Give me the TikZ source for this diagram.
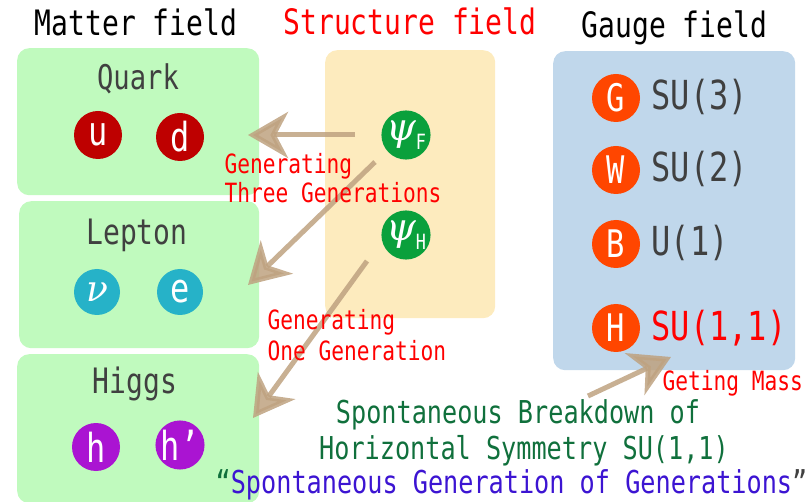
\documentclass[tikz,border=0pt]{standalone}
\usepackage{fontspec}
\setmainfont{DejaVu Sans Mono}[FakeStretch=0.8]
\newfontfamily\greekfont{DejaVu Serif}
\usetikzlibrary{arrows.meta}
\definecolor{boxgreen}{RGB}{192,250,190}
\definecolor{boxyellow}{RGB}{253,235,190}
\definecolor{boxblue}{RGB}{192,215,235}
\definecolor{quarkred}{RGB}{190,0,0}
\definecolor{leptcyan}{RGB}{38,178,200}
\definecolor{higgspurple}{RGB}{170,20,210}
\definecolor{psigreen}{RGB}{10,160,60}
\definecolor{gaugeorange}{RGB}{255,70,0}
\definecolor{arrtan}{RGB}{190,162,128}
\definecolor{labgray}{RGB}{64,64,64}
\definecolor{txtgreen}{RGB}{16,112,60}
\definecolor{txtblue}{RGB}{60,20,210}
\newcommand\fsz[1]{\fontsize{#1}{#1}\selectfont}
\begin{document}
\begin{tikzpicture}[x=1pt,y=-1pt,
  fieldbox/.style={rounded corners=12pt, anchor=north west, inner sep=0pt},
  particle/.style={circle, inner sep=0pt, minimum size=48pt, text=white, font=\fsz{40}},
  gaugeball/.style={circle, inner sep=0pt, minimum size=48pt, text=white, font=\fsz{38}},
  title/.style={anchor=base, font=\fsz{35}},
  boxlabel/.style={anchor=base, font=\fsz{34}, text=labgray},
  grouplabel/.style={anchor=base west, font=\fsz{40}, text=labgray},
  note/.style={anchor=base west, font=\fsz{26.5}, text=red},
  bottomtext/.style={anchor=base, font=\fsz{31.5}},
  arr/.style={line width=5pt, draw=arrtan, draw opacity=0.85, fill opacity=0.85,
    -{Stealth[length=40pt, width=46pt, inset=12pt, fill=arrtan]}}
]
\useasboundingbox (0,0) rectangle (811,502);

% boxes
\node[fieldbox, fill=boxgreen, minimum width=242pt, minimum height=147pt] (qbox) at (17,48) {};
\node[fieldbox, fill=boxgreen, minimum width=240pt, minimum height=147pt] (lbox) at (19,201) {};
\node[fieldbox, fill=boxgreen, minimum width=242pt, minimum height=149pt] (hbox) at (17,354) {};
\node[fieldbox, fill=boxyellow, minimum width=170pt, minimum height=268pt] (sbox) at (325,50) {};
\node[fieldbox, fill=boxblue, minimum width=242pt, minimum height=319pt] (gbox) at (553,51) {};

% titles
\node[title] (mtitle) at (136,36) {Matter field};
\node[title, text=red] (stitle) at (410,35) {Structure field};
\node[title] (gtitle) at (674.5,38) {Gauge field};

% matter
\node[boxlabel] (quark) at (138,90) {Quark};
\node[particle, fill=quarkred] (u) at (98,135) {u};
\node[particle, fill=quarkred] (d) at (180,137) {d};

\node[boxlabel, font=\fsz{35}] (lepton) at (137,245) {Lepton};
\node[particle, fill=leptcyan, minimum size=46pt] (nu) at (97,292) {\greekfont\itshape\fsz{36}ν};
\node[particle, fill=leptcyan, minimum size=46pt] (e) at (180,292) {e};

\node[boxlabel, font=\fsz{35}] (higgs) at (135,393) {Higgs};
\node[particle, fill=higgspurple] (h) at (96,447) {h};
\node[particle, fill=higgspurple] (hp) at (180,445) {h’};

% structure
\node[particle, fill=psigreen] (psiF) at (406,135) {{\greekfont\itshape\fsz{38}ψ}\raisebox{-9pt}{\fsz{21}F}};
\node[particle, fill=psigreen] (psiH) at (406,235) {{\greekfont\itshape\fsz{38}ψ}\raisebox{-9pt}{\fsz{21}H}};

% gauge
\node[gaugeball, fill=gaugeorange] (G) at (616,98) {G};
\node[grouplabel] (su3) at (648,110) {SU(3)};
\node[gaugeball, fill=gaugeorange] (W) at (616,170) {W};
\node[grouplabel] (su2) at (648,182) {SU(2)};
\node[gaugeball, fill=gaugeorange] (B) at (616,244) {B};
\node[grouplabel] (u1) at (648,256) {U(1)};
\node[gaugeball, fill=gaugeorange] (H) at (616,328) {H};
\node[grouplabel, text=red] (su11) at (648,341) {SU(1,1)};

% arrows
\coordinate (a1s) at (355,135); \coordinate (a1e) at (248,135);
\coordinate (a2s) at (375,162); \coordinate (a2e) at (248,285);
\coordinate (a3s) at (367,261); \coordinate (a3e) at (253,418);
\coordinate (a4s) at (588,396); \coordinate (a4e) at (671,357);
\draw[arr] (a1s) -- (a1e);
\draw[arr] (a2s) -- (a2e);
\draw[arr] (a3s) -- (a3e);
\draw[arr] (a4s) -- (a4e);

% notes
\node[note] (gen3a) at (221,174) {Generating};
\node[note] (gen3b) at (221,203) {Three Generations};
\node[note] (gen1a) at (264,330) {Generating};
\node[note] (gen1b) at (264,360) {One Generation};
\node[note] (mass) at (659,390) {Geting Mass};

% bottom text
\node[bottomtext, text=txtgreen] (sb1) at (518,423) {Spontaneous Breakdown of};
\node[bottomtext, text=txtgreen] (sb2) at (524,459) {Horizontal Symmetry SU(1,1)};
\node[bottomtext, text=txtblue] (sgg) at (511.5,493) {\textcolor{txtgreen}{“}Spontaneous Generation of Generations\textcolor{labgray}{”}};
\end{tikzpicture}
\end{document}
